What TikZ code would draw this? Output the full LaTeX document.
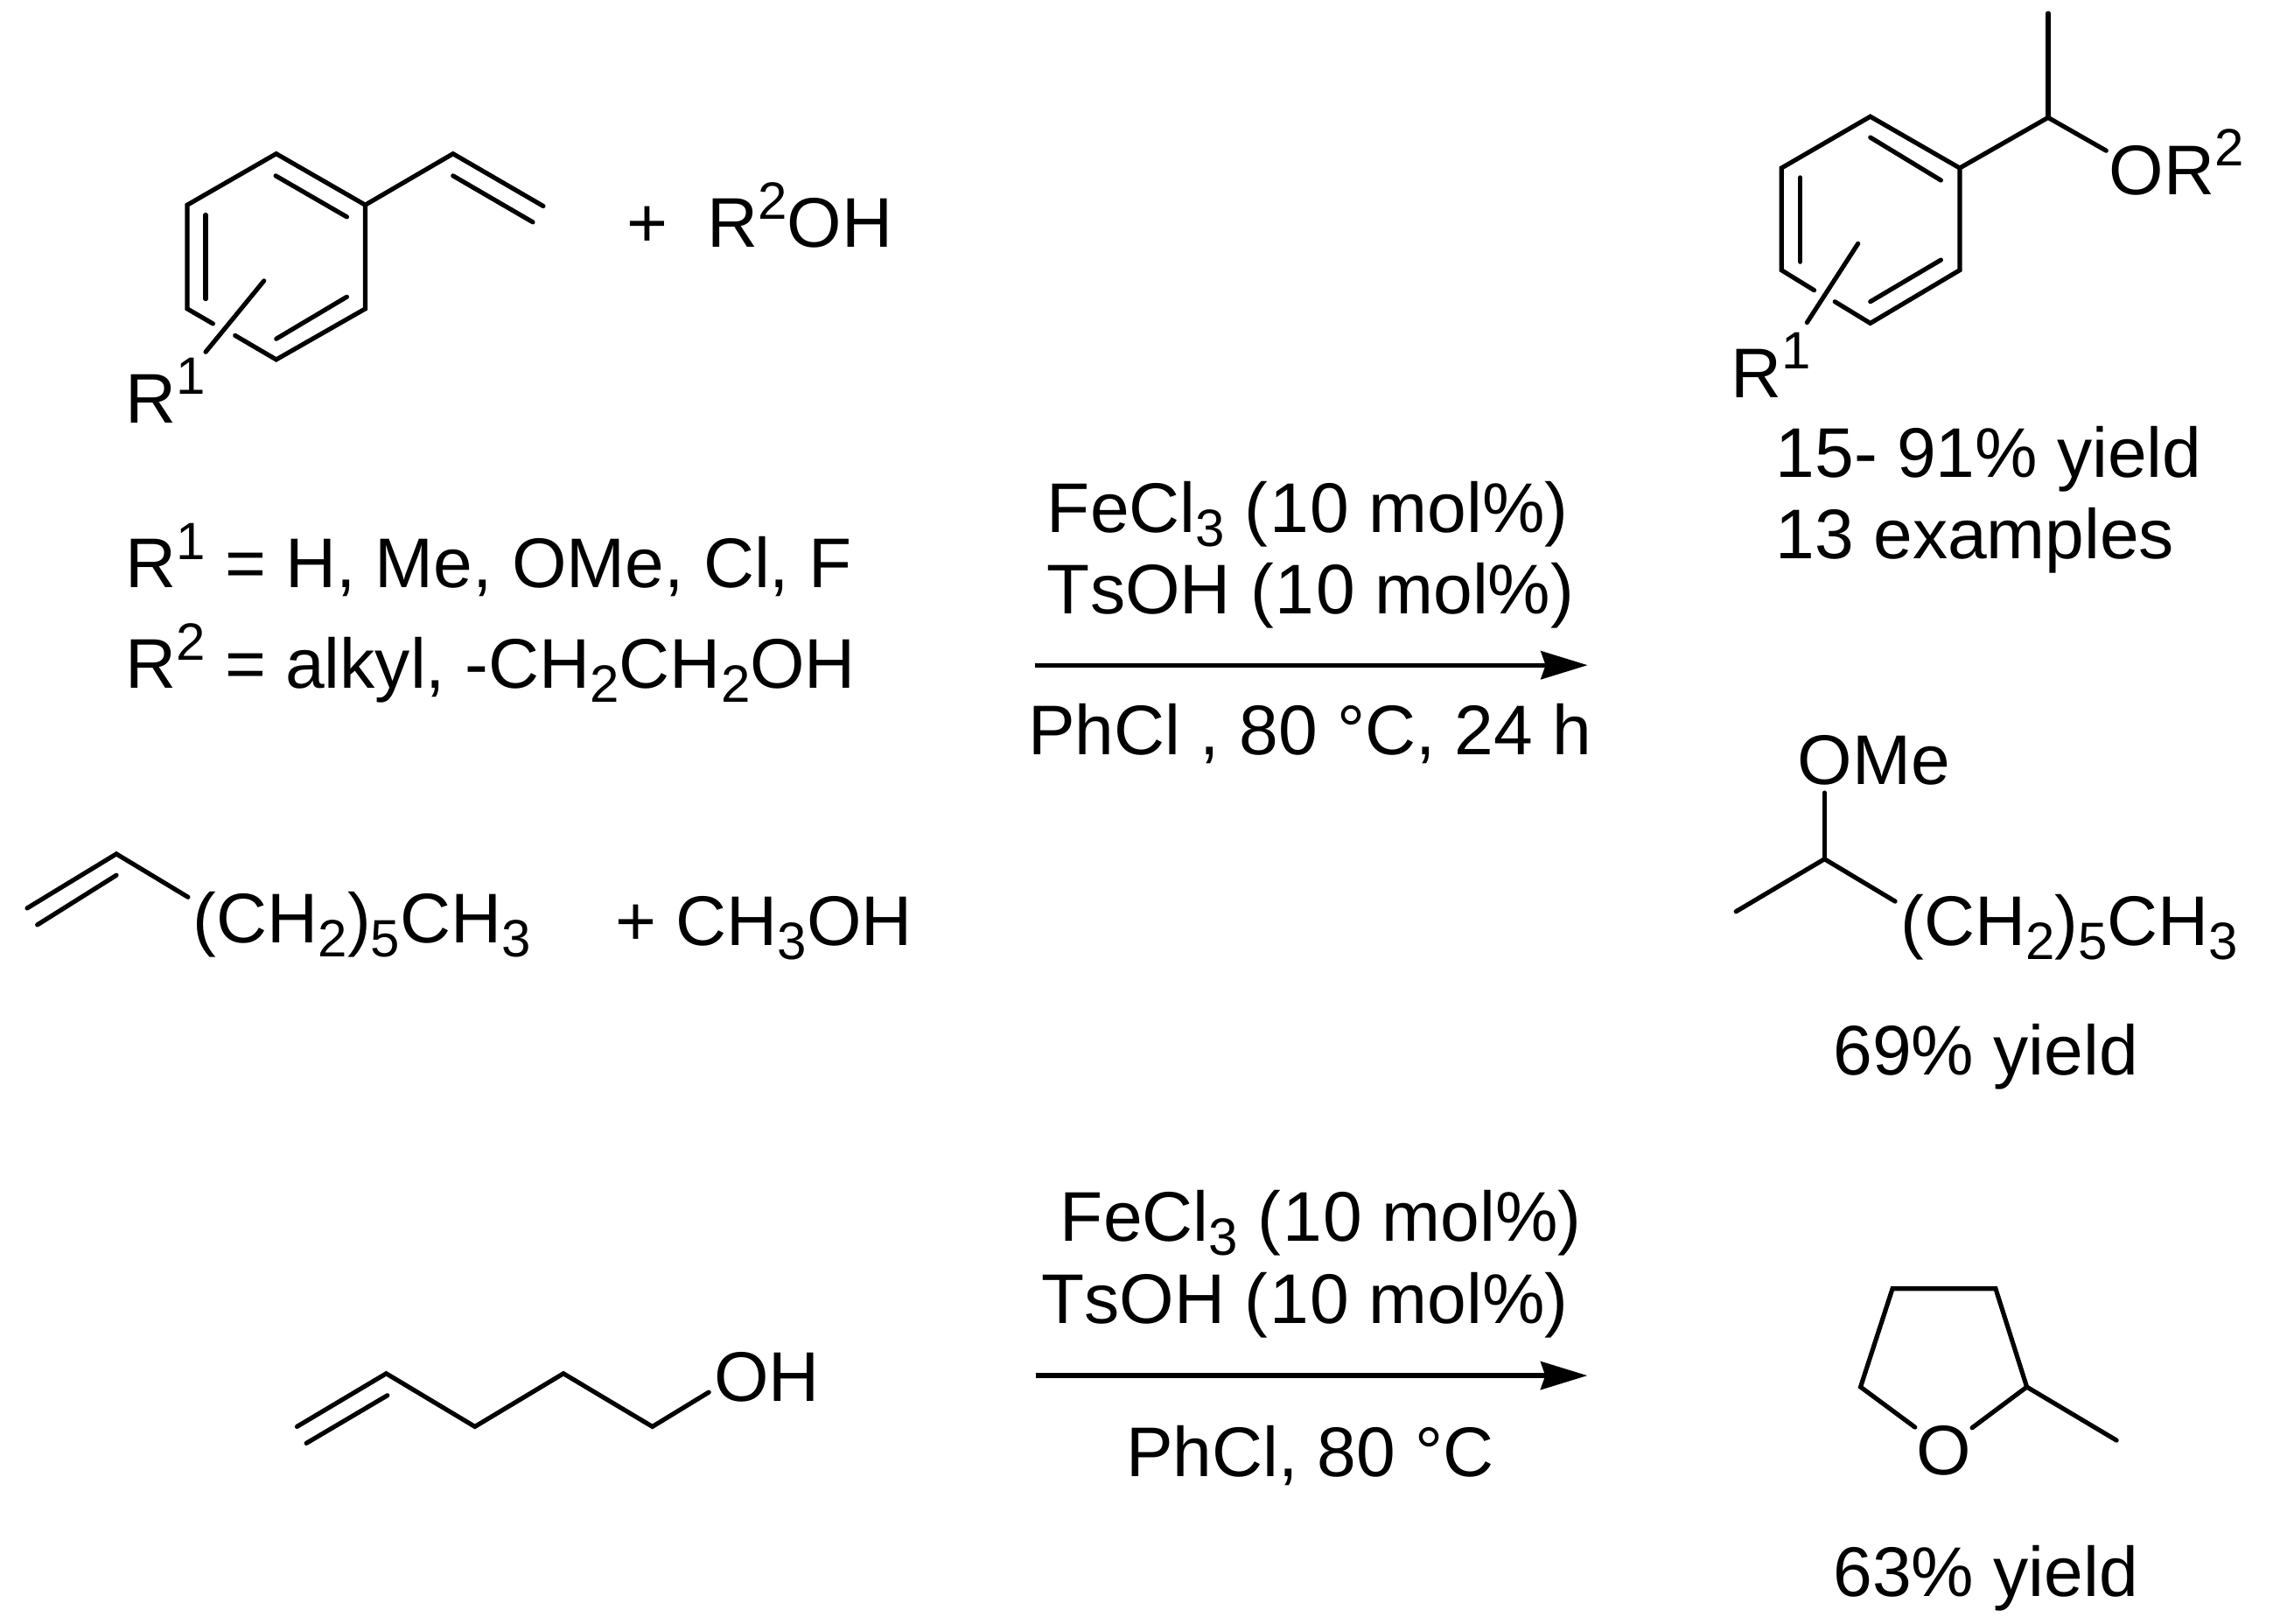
\documentclass[tikz,border=0pt]{standalone}
\usepackage{fontspec}
\setmainfont[Kerning=Off]{Liberation Sans}
\usetikzlibrary{arrows.meta}
\newcommand\upidx[1]{\raisebox{.40em}{\fontsize{18}{18}\selectfont #1}}
\newcommand\dnidx[1]{\raisebox{-.20em}{\fontsize{18}{18}\selectfont #1}}
\newcommand\tenmol{(\kern.6pt 1\kern.6pt 0 mol\%)}
\tikzset{
  bond/.style={line width=1.55pt,line join=miter,line cap=round,black},
  rxnarrow/.style={line width=1.6pt,-{Stealth[length=16pt,width=9.6pt,inset=1.6pt]}},
  chem/.style={inner sep=0pt,outer sep=0pt,anchor=base west,font=\fontsize{24.1}{28}\selectfont}
}
\begin{document}
\begin{tikzpicture}[x=.5pt,y=-.5pt]
\useasboundingbox (0,0) rectangle (1568,1113);
% styrene
\coordinate (s1) at (189.4,105.4);
\coordinate (s2) at (250.4,140.5);
\coordinate (s3) at (250.4,211.7);
\coordinate (s4) at (189.4,246.5);
\coordinate (s5) at (128.4,211.7);
\coordinate (s6) at (128.4,140.5);
\coordinate (sv1) at (310.6,105.4);
\coordinate (sv2) at (372.5,141.3);
\coordinate (sg1) at (146,221.9);
\coordinate (sg2) at (161.2,230);
\coordinate (si1a) at (189,120.5);
\coordinate (si1b) at (237.8,148.7);
\coordinate (si2a) at (141,147.3);
\coordinate (si2b) at (141,204.9);
\coordinate (si3a) at (237.8,203.5);
\coordinate (si3b) at (189.4,232.3);
\coordinate (sv3) at (310.6,120.5);
\coordinate (sv4) at (365.3,152.3);
\coordinate (sr1) at (181,192.5);
\coordinate (sr2) at (141,241.3);
\draw[bond] (sg1) -- (s5) -- (s6) -- (s1) -- (s2) -- (s3) -- (s4) -- (sg2);
\draw[bond] (s2) -- (sv1) -- (sv2);
\draw[bond] (sv3) -- (sv4);
\draw[bond] (si1a) -- (si1b);
\draw[bond] (si2a) -- (si2b);
\draw[bond] (si3a) -- (si3b);
\draw[bond] (sr1) -- (sr2);
\node[chem] (plus1) at (429.5,169.3) {+};
\node[chem] (r2oh) at (485,169.3) {R\upidx{2}OH};
\node[chem] (r1a) at (86,289.8) {R\upidx{1}};
\node[chem] (def1) at (86,403) {R\upidx{1} = H, Me, OMe, Cl, F};
\node[chem] (def2) at (86,472) {R\upidx{2} = alkyl, -CH\dnidx{2}CH\dnidx{2}OH};
% product 1
\coordinate (p1) at (1282.3,79.9);
\coordinate (p2) at (1343.6,115.2);
\coordinate (p3) at (1343.6,185.2);
\coordinate (p4) at (1282.3,221.6);
\coordinate (p5) at (1221.4,185.2);
\coordinate (p6) at (1221.4,115.2);
\coordinate (pc) at (1404.2,80.6);
\coordinate (pm) at (1404.2,9.1);
\coordinate (po) at (1444,103.3);
\coordinate (pg1) at (1243.8,199);
\coordinate (pg2) at (1258,206.8);
\coordinate (pi1a) at (1282.3,94.2);
\coordinate (pi1b) at (1330.7,123.6);
\coordinate (pi2a) at (1234.3,121.7);
\coordinate (pi2b) at (1234.3,179.5);
\coordinate (pi3a) at (1330.7,178.2);
\coordinate (pi3b) at (1282.3,206.8);
\coordinate (pr1) at (1273.9,167);
\coordinate (pr2) at (1238.9,221.1);
\draw[bond] (pg1) -- (p5) -- (p6) -- (p1) -- (p2) -- (p3) -- (p4) -- (pg2);
\draw[bond] (p2) -- (pc) -- (po);
\draw[bond] (pc) -- (pm);
\draw[bond] (pi1a) -- (pi1b);
\draw[bond] (pi2a) -- (pi2b);
\draw[bond] (pi3a) -- (pi3b);
\draw[bond] (pr1) -- (pr2);
\node[chem] (or2) at (1446,133.2) {OR\upidx{2}};
\node[chem] (r1b) at (1187,272.4) {R\upidx{1}};
\node[chem] (y1) at (1217.5,327.3) {15- 91\% yield};
\node[chem] (y2) at (1217.5,382.9) {13 examples};
% arrow 1
\coordinate (a1s) at (709.4,456);
\coordinate (a1e) at (1088.5,456);
\draw[rxnarrow] (a1s) -- (a1e);
\node[chem] (c1) at (718,365) {FeCl\dnidx{3} \tenmol};
\node[chem] (c2) at (718,420.6) {TsOH \tenmol};
\node[chem] (c3) at (705,517.6) {PhCl , 80 °C, 24 h};
% octene
\coordinate (o1) at (18.6,622.6);
\coordinate (o2) at (79.8,585.4);
\coordinate (o3) at (128.9,615);
\coordinate (o4) at (25.6,634);
\coordinate (o5) at (79.8,600);
\draw[bond] (o1) -- (o2) -- (o3);
\draw[bond] (o4) -- (o5);
\node[chem] (oc) at (132.5,646.5) {(CH\dnidx{2})\dnidx{5}CH\dnidx{3}};
\node[chem] (plus2) at (422,648) {+};
\node[chem] (meoh) at (463.5,648) {CH\dnidx{3}OH};
% product 2
\coordinate (q1) at (1250.9,543.5);
\coordinate (q2) at (1250.9,588.9);
\coordinate (q3) at (1190.2,624.9);
\coordinate (q4) at (1299.3,617.9);
\draw[bond] (q1) -- (q2);
\draw[bond] (q3) -- (q2) -- (q4);
\node[chem] (ome) at (1232.5,537.5) {OMe};
\node[chem] (qc) at (1303,648) {(CH\dnidx{2})\dnidx{5}CH\dnidx{3}};
\node[chem] (y3) at (1257,736.9) {69\% yield};
% pentenol
\coordinate (h1) at (203.6,978);
\coordinate (h2) at (264.8,941.6);
\coordinate (h3) at (325.6,978);
\coordinate (h4) at (386.3,941.6);
\coordinate (h5) at (447.3,978);
\coordinate (h6) at (486,954.4);
\coordinate (h7) at (210,989.4);
\coordinate (h8) at (265.6,956.6);
\draw[bond] (h1) -- (h2) -- (h3) -- (h4) -- (h5) -- (h6);
\draw[bond] (h7) -- (h8);
\node[chem] (oh) at (489.5,960.4) {OH};
% arrow 2
\coordinate (a2s) at (710,943);
\coordinate (a2e) at (1088.3,943);
\draw[rxnarrow] (a2s) -- (a2e);
\node[chem] (d1) at (727,851) {FeCl\dnidx{3} \tenmol};
\node[chem] (d2) at (714,907) {TsOH \tenmol};
\node[chem] (d3) at (772,1012) {PhCl, 80 °C};
% THF
\coordinate (t1) at (1297.5,883.4);
\coordinate (t2) at (1368.2,883.4);
\coordinate (t3) at (1389.6,950.8);
\coordinate (t4) at (1352.1,978.8);
\coordinate (t5) at (1312.9,978.4);
\coordinate (t6) at (1275.6,950.8);
\coordinate (t7) at (1451.1,987.4);
\draw[bond] (t5) -- (t6) -- (t1) -- (t2) -- (t3) -- (t4);
\draw[bond] (t3) -- (t7);
\node[chem] (to) at (1314,1010.8) {O};
\node[chem] (y4) at (1257,1094.4) {63\% yield};
\end{tikzpicture}
\end{document}
